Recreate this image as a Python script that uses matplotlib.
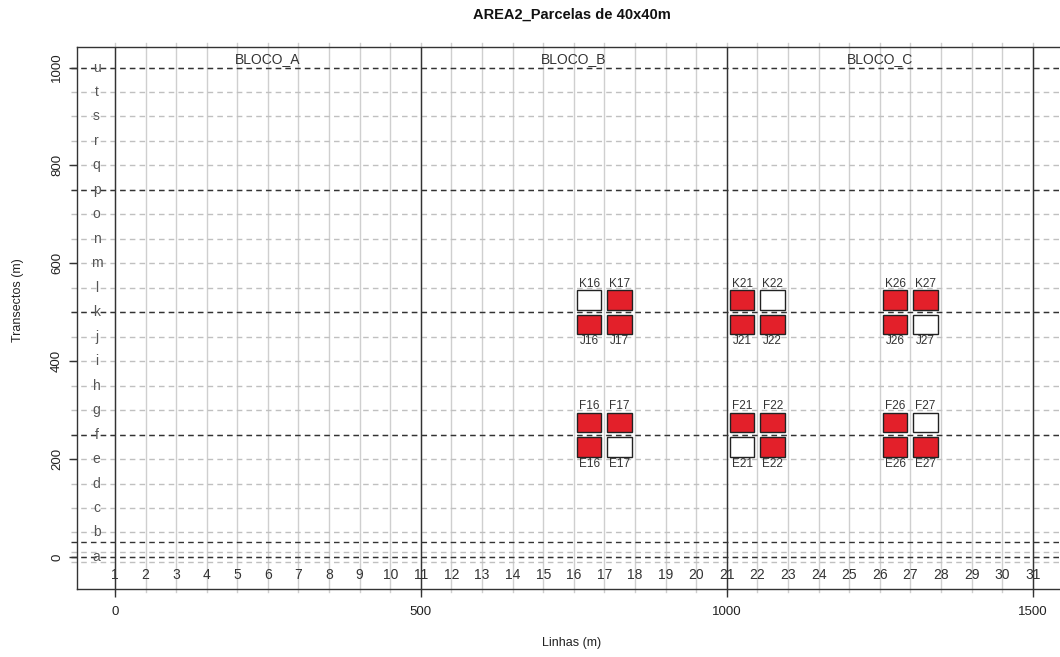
import matplotlib
matplotlib.use("Agg")
import matplotlib.pyplot as plt
from matplotlib.patches import Rectangle

plt.rcParams["font.family"] = ["Liberation Sans", "DejaVu Sans"]

# Transect letters (every 50 m) and line numbers (every 50 m)
rows = list("abcdefghijklmnopqrstu")
cols = list(range(1, 32))
blocks = ["BLOCO_A", "BLOCO_B", "BLOCO_C"]
block_centres = [250, 750, 1250]
block_edges = [0, 500, 1000, 1500]
strata_lines = [0, 30, 250, 500, 750, 1000]
extra_grey = [-10, 10]

# 40x40 m parcels and whether they were sampled
parcels = ["K16", "K17", "J16", "J17", "F16", "F17", "E16", "E17",
           "K21", "K22", "J21", "J22", "F21", "F22", "E21", "E22",
           "K26", "K27", "J26", "J27", "F26", "F27", "E26", "E27"]
sampled = [0, 1, 1, 1, 1, 1, 1, 0,
           1, 0, 1, 1, 1, 1, 0, 1,
           1, 1, 1, 0, 1, 0, 1, 1]

STEP = 50
SIZE = 40
RED = "#e3202a"
DARK = "#333333"

fig = plt.figure(figsize=(10.6, 6.57), dpi=100)
ax = fig.add_axes([77 / 1060, 68 / 657, 990 / 1060, 542 / 657])
ax.set_xlim(-62, 1556)
ax.set_ylim(-65.5, 1042)

# grey grid: solid verticals at each line, dashed horizontals at each transect
for c in cols:
    ax.plot([(c - 1) * STEP] * 2, [-72, 1050], color="#cfcfcf", lw=1.0,
            clip_on=False, zorder=1)
for y in [i * STEP for i in range(len(rows))] + extra_grey:
    ax.plot([-72, 1600], [y, y], color="#c0c0c0", lw=1.0, ls=(0, (4, 3)),
            clip_on=False, zorder=1)

# block boundaries and strata
for x in block_edges:
    ax.axvline(x, color=DARK, lw=1.0, zorder=2)
for y in strata_lines:
    ax.plot([-72, 1600], [y, y], color=DARK, lw=1.0, ls=(0, (4, 3)),
            clip_on=False, zorder=2)

for i, r in enumerate(rows):
    ax.text(-30, i * STEP, r, ha="center", va="center", fontsize=10,
            color="#555555", zorder=3)
for c in cols:
    ax.text((c - 1) * STEP, -37, str(c), ha="center", va="center",
            fontsize=10, color="#333333", zorder=3)
for name, xc in zip(blocks, block_centres):
    ax.text(xc, 1018, name, ha="center", va="center", fontsize=10,
            color="#333333")

# parcels
for name, s in zip(parcels, sampled):
    ri = rows.index(name[0].lower())
    ci = int(name[1:])
    x0 = (ci - 1) * STEP + 5
    y0 = ri * STEP + 5
    ax.add_patch(Rectangle((x0, y0), SIZE, SIZE, facecolor=RED if s else "white",
                           edgecolor="#222222", lw=1.0, zorder=4))
    if name[0] in "KF":
        ax.text(x0 + SIZE / 2, y0 + SIZE + 1, name, ha="center", va="bottom",
                fontsize=8.5, color="#333333", zorder=5)
    else:
        ax.text(x0 + SIZE / 2, y0 - 2, name, ha="center", va="top",
                fontsize=8.5, color="#333333", zorder=5)

ax.set_xticks([0, 500, 1000, 1500])
ax.set_yticks([0, 200, 400, 600, 800, 1000])
ax.tick_params(axis="x", length=6, width=1, color=DARK, pad=6, labelsize=9.5,
               labelcolor="#222222")
ax.tick_params(axis="y", length=6, width=1, color=DARK, pad=4, labelsize=9.5,
               labelcolor="#222222", labelrotation=90)
for lab in ax.get_yticklabels():
    lab.set_va("center")
for sp in ax.spines.values():
    sp.set_color(DARK)
    sp.set_linewidth(1.0)

fig.text(572 / 1060, 1 - 643 / 657, "Linhas (m)", ha="center", va="center",
         fontsize=9, color="#222222")
fig.text(18 / 1060, 1 - 300 / 657, "Transectos (m)", ha="center", va="center",
         rotation=90, fontsize=9, color="#222222")
fig.text(572 / 1060, 1 - 15 / 657, "AREA2_Parcelas de 40x40m", ha="center",
         va="center", fontsize=10.5, fontweight="bold", color="#111111")

fig.savefig("out.png", dpi=100)
